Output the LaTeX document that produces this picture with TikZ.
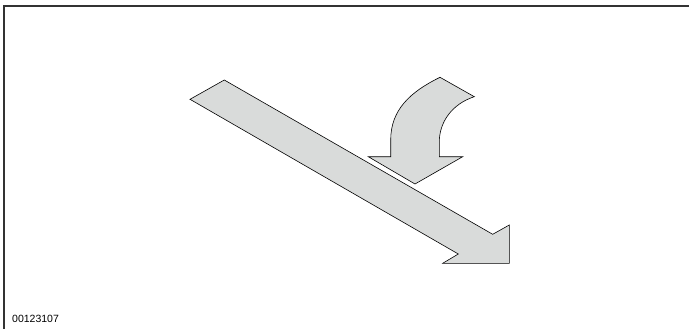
\documentclass[tikz,border=0pt]{standalone}
\usepackage{fontspec}
\setmainfont{Liberation Sans}
\definecolor{arrowgray}{HTML}{D9DBDA}
\begin{document}
\begin{tikzpicture}[x=1pt,y=-1pt,
  arrowshape/.style={fill=arrowgray,draw=black,line width=0.6pt,line join=miter},
  frameline/.style={draw=black!80,line width=1.2pt}]
\useasboundingbox (0,0) rectangle (689,329);
\draw[frameline] (4,329) -- (4,6) -- (689,6);
\node[anchor=base west,inner sep=0,font=\fontsize{10.5}{12}\selectfont] (code) at (12,322) {00123107};
% big straight arrow
\draw[arrowshape] (190,99.3) -- (224.3,80) -- (492.7,234.3) -- (509.3,225) -- (509.3,263.3)
  -- (442.7,263.3) -- (458.3,254) -- cycle;
% curved arrow
\draw[arrowshape] (415,184) -- (368.3,156.7) -- (390.7,156.7) -- (390.7,140)
  .. controls (390.7,110) and (410,92) .. (440,77.3)
  -- (474.3,96.7)
  .. controls (452,104) and (439.3,122) .. (439.3,142)
  -- (439.3,156.7) -- (462.7,156.7) -- cycle;
\end{tikzpicture}
\end{document}
